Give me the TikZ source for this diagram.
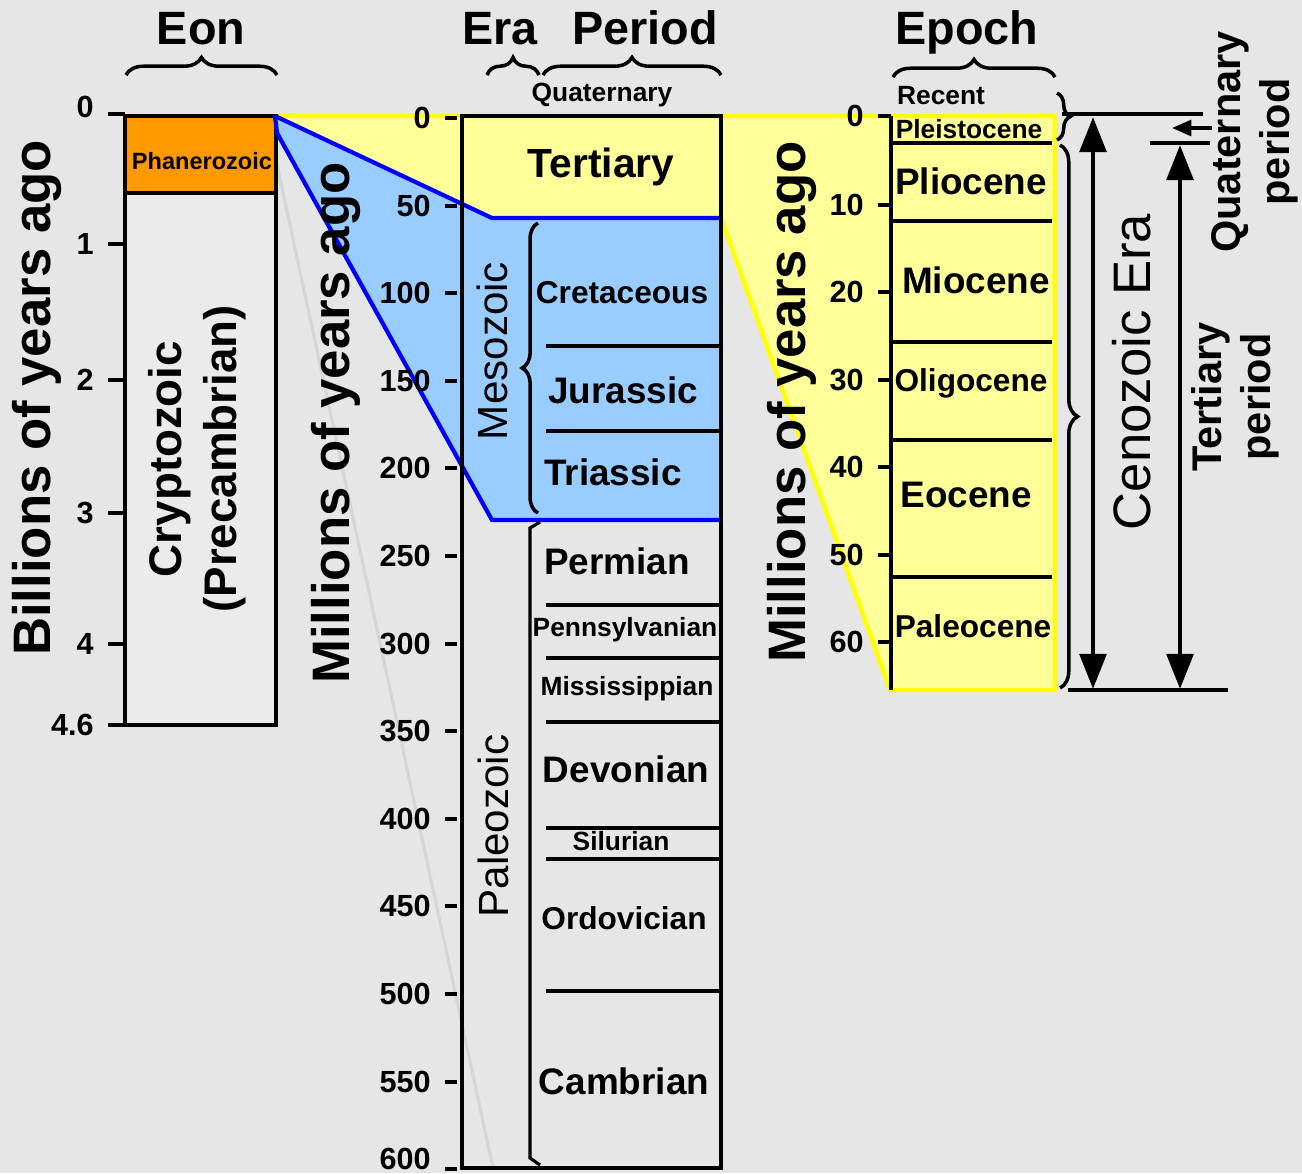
\documentclass[tikz,border=0pt]{standalone}
\usepackage{fontspec}
\setmainfont{Liberation Sans}
\usetikzlibrary{arrows.meta,decorations.pathreplacing,positioning}
\definecolor{bggray}{HTML}{E6E6E6}
\definecolor{cryptogray}{HTML}{EBEBEB}
\definecolor{faintgray}{HTML}{D6D6D6}
\definecolor{paleyellow}{HTML}{FFFF99}
\definecolor{brightyellow}{HTML}{FFFF00}
\definecolor{skyblue}{HTML}{99CCFF}
\definecolor{deepblue}{HTML}{0000FF}
\definecolor{phanorange}{HTML}{FF9900}

\begin{document}
\begin{tikzpicture}[x=0.1mm, y=-0.1mm,
    header/.style={font=\bfseries\fontsize{13.3}{16}\selectfont, anchor=base},
    axislabel/.style={font=\bfseries\fontsize{15}{18}\selectfont, rotate=90},
    num/.style={font=\bfseries\fontsize{8.7}{10}\selectfont, anchor=east, inner sep=0pt, xshift=-3.6pt},
    tick/.style={line width=1pt},
    bigname/.style={font=\bfseries\fontsize{10.5}{12}\selectfont},
    midname/.style={font=\bfseries\fontsize{9}{11}\selectfont},
    smallname/.style={font=\bfseries\fontsize{7.5}{9}\selectfont},
    eraname/.style={font=\fontsize{12}{14}\selectfont, rotate=90},
    sidelabel/.style={font=\bfseries\fontsize{11.8}{14}\selectfont, rotate=90, align=center},
    divider/.style={line width=0.9pt},
    border/.style={line width=1.1pt},
    hbrace/.style={decorate, decoration={brace, amplitude=5pt}, line width=1pt},
    dimarrow/.style={<->, >={Triangle[length=10pt,width=7.5pt]}, line width=1.4pt},
    smallarrow/.style={->, >={Triangle[length=5.5pt,width=4.5pt]}, line width=1pt},
    dimline/.style={line width=1.1pt}
]

% Background
\useasboundingbox (0,0) rectangle (1302,1173);
\clip (0,0) rectangle (1302,1173);
\fill[bggray] (0,0) rectangle (1302,1173);

% Yellow band (Tertiary zoom)
\fill[paleyellow] (275,116) -- (1055,116) -- (1055,690) -- (890,690) -- (721,218) -- (492,218) -- cycle;
\draw[brightyellow, line width=1.2pt] (275,116) -- (1055,116) -- (1055,690) -- (890,690) -- (721,218);

% Faint guide line
\draw[faintgray, line width=0.9pt] (276,160) -- (493,1168);

% Eon column
\fill[phanorange] (125,116) rectangle (276,193);
\fill[cryptogray] (125,193) rectangle (276,725);
\draw[border] (125,116) rectangle (276,725);
\draw[border] (125,193) -- (276,193);
\node[font=\bfseries\fontsize{6.7}{8}\selectfont] (phan) at (202,161) {Phanerozoic};
\node[font=\bfseries\fontsize{13}{15.6}\selectfont, rotate=90, align=center] (crypto) at (197,459) {Cryptozoic\\(Precambrian)};

% Blue Mesozoic wedge
\fill[skyblue] (275,116) -- (492,218) -- (721,218) -- (721,520) -- (492,520) -- (277,133) -- cycle;
\draw[deepblue, line width=1.2pt] (275,116) -- (492,218) -- (721,218);
\draw[deepblue, line width=1.2pt] (275,116) -- (277,133) -- (492,520) -- (721,520);

% Era / Period column
\draw[border] (462,116) rectangle (721,1168);
\draw[divider] (546,346) -- (721,346);
\draw[divider] (546,431) -- (721,431);
\draw[divider] (546,605) -- (721,605);
\draw[divider] (546,658) -- (721,658);
\draw[divider] (546,722) -- (721,722);
\draw[divider] (546,828) -- (721,828);
\draw[divider] (546,859) -- (721,859);
\draw[divider] (546,991) -- (721,991);

% Epoch column
\draw[border] (891,116) -- (891,690);
\draw[divider] (893,143) -- (1052,143);
\draw[divider] (893,221) -- (1052,221);
\draw[divider] (893,342) -- (1052,342);
\draw[divider] (893,440) -- (1052,440);
\draw[divider] (893,577) -- (1052,577);

% Ticks - billions
\draw[tick] (125,114) -- (108,114) node[num, yshift=2pt] (b0) {0};
\draw[tick] (125,244) -- (108,244) node[num] (b1) {1};
\draw[tick] (125,380) -- (108,380) node[num] (b2) {2};
\draw[tick] (125,513) -- (108,513) node[num] (b3) {3};
\draw[tick] (125,644) -- (108,644) node[num] (b4) {4};
\draw[tick] (125,725) -- (108,725) node[num] (b46) {4.6};

% Ticks - millions (middle)
\draw[tick] (457,118) -- (445,118) node[num] (m0) {0};
\draw[tick] (457,206) -- (445,206) node[num] (m50) {50};
\draw[tick] (457,293) -- (445,293) node[num] (m100) {100};
\draw[tick] (457,381) -- (445,381) node[num] (m150) {150};
\draw[tick] (457,468) -- (445,468) node[num] (m200) {200};
\draw[tick] (457,556) -- (445,556) node[num] (m250) {250};
\draw[tick] (457,644) -- (445,644) node[num] (m300) {300};
\draw[tick] (457,731) -- (445,731) node[num] (m350) {350};
\draw[tick] (457,819) -- (445,819) node[num] (m400) {400};
\draw[tick] (457,906) -- (445,906) node[num] (m450) {450};
\draw[tick] (457,994) -- (445,994) node[num] (m500) {500};
\draw[tick] (457,1082) -- (445,1082) node[num] (m550) {550};
\draw[tick] (457,1169) -- (445,1169) node[num, yshift=3pt] (m600) {600};

% Ticks - millions (epochs)
\draw[tick] (891,116) -- (878,116) node[num] (e0) {0};
\draw[tick] (891,205) -- (878,205) node[num] (e10) {10};
\draw[tick] (891,292) -- (878,292) node[num] (e20) {20};
\draw[tick] (891,380) -- (878,380) node[num] (e30) {30};
\draw[tick] (891,467) -- (878,467) node[num] (e40) {40};
\draw[tick] (891,555) -- (878,555) node[num] (e50) {50};
\draw[tick] (891,642) -- (878,642) node[num] (e60) {60};

% Axis labels
\node[axislabel] (billions) at (37,398) {Billions of years ago};
\node[axislabel] (millions) at (336,423) {Millions of years ago};
\node[axislabel] (millionsep) at (792,402) {Millions of years ago};

% Headers and braces
\node[header] (eon) at (201,44) {Eon};
\node[header] (era) at (500,44) {Era};
\node[header] (period) at (645,44) {Period};
\node[header] (epoch) at (967,44) {Epoch};
\draw[hbrace] (126,75) -- (277,75);
\draw[hbrace] (487,75) -- (539,75);
\draw[hbrace] (543,75) -- (721,75);
\draw[hbrace] (893,77) -- (1055,77);

% Eras
\draw[hbrace, decoration={brace, amplitude=4.5pt}] (538,513) -- (538,223);
\draw[line width=0.9pt] (540,522) -- (530,528) -- (530,1158) -- (540,1165);
\node[eraname] (meso) at (492,351) {Mesozoic};
\node[eraname] (paleo) at (493,826) {Paleozoic};

% Periods
\node[smallname] (quaternary) at (602,95) {Quaternary};
\node[font=\bfseries\fontsize{11.6}{14}\selectfont] (tertiary) at (601,167) {Tertiary};
\node[midname] (cretaceous) at (622,293) {Cretaceous};
\node[bigname] (jurassic) at (623,390) {Jurassic};
\node[bigname] (triassic) at (613,472) {Triassic};
\node[bigname] (permian) at (617,561) {Permian};
\node[smallname] (penn) at (625,630) {Pennsylvanian};
\node[smallname] (miss) at (627,689) {Mississippian};
\node[bigname] (devonian) at (626,769) {Devonian};
\node[smallname] (silurian) at (621,841) {Silurian};
\node[midname] (ordovician) at (624,918) {Ordovician};
\node[bigname] (cambrian) at (624,1081) {Cambrian};

% Epochs
\node[smallname] (recent) at (941,96) {Recent};
\node[smallname] (pleisto) at (969,129) {Pleistocene};
\node[bigname] (plio) at (971,181) {Pliocene};
\node[bigname] (mio) at (976,280) {Miocene};
\node[midname] (oligo) at (971,383) {Oligocene};
\node[bigname] (eo) at (966,495) {Eocene};
\node[midname] (paleo2) at (973,626) {Paleocene};

% Right side spans
\draw[hbrace, decoration={brace, amplitude=3.8pt}] (1057,93) -- (1057,140);
\draw[hbrace] (1060,145) -- (1060,688);
\coordinate (qtopA) at (1062,114);
\coordinate (qtopB) at (1203,114);
\coordinate (ttopA) at (1150,143);
\coordinate (ttopB) at (1210,143);
\coordinate (baseA) at (1068,690);
\coordinate (baseB) at (1228,690);
\coordinate (cenoTop) at (1093,117);
\coordinate (cenoBot) at (1093,689);
\coordinate (tertTop) at (1180,145);
\coordinate (tertBot) at (1180,689);
\coordinate (quatTail) at (1212,128);
\coordinate (quatTip) at (1172,128);
\draw[dimline] (qtopA) -- (qtopB);
\draw[dimline] (ttopA) -- (ttopB);
\draw[dimline] (baseA) -- (baseB);
\draw[dimarrow] (cenoTop) -- (cenoBot);
\draw[dimarrow] (tertTop) -- (tertBot);
\draw[smallarrow] (quatTail) -- (quatTip);
\node[font=\fontsize{15}{18}\selectfont, rotate=90] (cenozoic) at (1132,372) {Cenozoic Era};
\node[sidelabel] (tertside) at (1235,397) {Tertiary\\period};
\node[sidelabel] (quatside) at (1255,142) {Quaternary\\period};

\end{tikzpicture}
\end{document}
